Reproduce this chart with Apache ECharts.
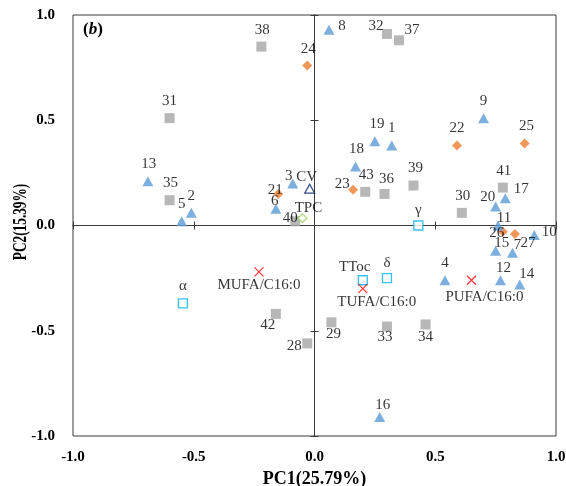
<!DOCTYPE html>
<html>
<head>
<meta charset="utf-8">
<script src="https://cdn.jsdelivr.net/npm/echarts@6/dist/echarts.min.js"></script>
<style>
  html, body { margin: 0; padding: 0; background: #fff; }
  #chart { width: 566px; height: 486px; }
</style>
</head>
<body>
<div id="chart"></div>
<script>
// PCA biplot: sample scores and variable loadings on PC1 / PC2

// Samples 1–20 (blue triangles)
const triNames = ['1','2','3','4','5','6','7','8','9','10','11','12','13','14','15','16','17','18','19','20'];
const triPC1 = [0.32, -0.51, -0.09, 0.54, -0.55, -0.16, 0.82, 0.06, 0.70, 0.91, 0.76, 0.77, -0.69, 0.85, 0.75, 0.27, 0.79, 0.17, 0.25, 0.75];
const triPC2 = [0.38, 0.06, 0.20, -0.26, 0.02, 0.08, -0.13, 0.93, 0.51, -0.045, 0.00, -0.26, 0.21, -0.28, -0.12, -0.91, 0.13, 0.28, 0.40, 0.09];

// Samples 21–27 (orange diamonds)
const diaNames = ['21','22','23','24','25','26','27'];
const diaPC1 = [-0.15, 0.59, 0.16, -0.03, 0.87, 0.78, 0.83];
const diaPC2 = [0.15, 0.38, 0.17, 0.76, 0.39, -0.03, -0.04];

// Samples 28–43 (grey squares)
const sqNames = ['28','29','30','31','32','33','34','35','36','37','38','39','40','41','42','43'];
const sqPC1 = [-0.03, 0.07, 0.61, -0.60, 0.30, 0.30, 0.46, -0.60, 0.29, 0.35, -0.22, 0.41, -0.08, 0.78, -0.16, 0.21];
const sqPC2 = [-0.56, -0.46, 0.06, 0.51, 0.91, -0.48, -0.47, 0.12, 0.15, 0.88, 0.85, 0.19, 0.02, 0.18, -0.42, 0.16];

// Tocopherol loadings (open squares)
const tocNames = ['α', 'γ', 'δ', 'TToc'];
const tocPC1 = [-0.545, 0.43, 0.30, 0.20];
const tocPC2 = [-0.37, 0.00, -0.25, -0.26];

// Fatty-acid ratio loadings (crosses)
const faNames = ['MUFA/C16:0', 'TUFA/C16:0', 'PUFA/C16:0'];
const faPC1 = [-0.23, 0.20, 0.65];
const faPC2 = [-0.22, -0.30, -0.26];

// CV (open triangle) and TPC (open diamond)
const cvNames = ['CV'];
const cvPC1 = [-0.02];
const cvPC2 = [0.175];
const tpcNames = ['TPC'];
const tpcPC1 = [-0.05];
const tpcPC2 = [0.035];

// Axis ticks
const axisTicks = [-1.0, -0.5, 0.0, 0.5, 1.0];

// Where each point's label sits relative to its marker (px)
const labelOffset = {
  '1': [0, -17], '2': [0, -17], '3': [-4, -7], '4': [0, -17], '5': [0, -17],
  '6': [-1, -8], '7': [5, -8], '8': [13, -4], '9': [0, -17], '10': [15, -3],
  '11': [6, -7], '12': [3, -12], '13': [1, -17], '14': [7, -10], '15': [6, -8],
  '16': [3, -12], '17': [16, -9], '18': [1, -17], '19': [2, -17], '20': [-8, -9],
  '21': [-3, -4], '22': [0, -17], '23': [-11, -6], '24': [1, -16], '25': [2, -17],
  '26': [-6, 1], '27': [13, 9],
  '28': [-13, 3], '29': [2, 12], '30': [1, -17], '31': [0, -17], '32': [-11, -8],
  '33': [-2, 11], '34': [0, 13], '35': [1, -17], '36': [2, -15], '37': [13, -10],
  '38': [1, -17], '39': [2, -17], '40': [-5, -3], '41': [1, -17], '42': [-8, 11], '43': [1, -17],
  'α': [0, -17], 'γ': [0, -15], 'δ': [0, -15], 'TToc': [-8, -13],
  'MUFA/C16:0': [0, 13], 'TUFA/C16:0': [14, 13], 'PUFA/C16:0': [13, 17],
  'CV': [-3, -12], 'TPC': [6, -10]
};

const SERIF = '"Liberation Serif", "Times New Roman", serif';
const AXIS_COLOR = '#3a3a3a';

function points(names, xs, ys) {
  return names.map((n, i) => ({
    name: n,
    value: [xs[i], ys[i]],
    label: { offset: labelOffset[n] || [0, -15] }
  }));
}

function scatter(name, data, symbol, size, itemStyle) {
  return {
    name: name,
    type: 'scatter',
    data: data,
    symbol: symbol,
    symbolSize: size,
    itemStyle: itemStyle,
    label: {
      show: true,
      position: 'inside',
      formatter: '{b}',
      fontFamily: SERIF,
      fontSize: 15,
      color: '#000'
    },
    emphasis: { disabled: true }
  };
}

const tickFmt = v => v.toFixed(1);

function labelAxis(pos, name) {
  return {
    type: 'value', min: axisTicks[0], max: axisTicks[axisTicks.length - 1], interval: 0.5,
    position: pos,
    axisLine: { show: false, onZero: false },
    axisTick: { show: false },
    splitLine: { show: false },
    axisLabel: {
      formatter: tickFmt, fontFamily: SERIF, fontWeight: 'bold', fontSize: 15, color: '#000',
      margin: pos === 'bottom' ? 14 : 18
    },
    name: name,
    nameLocation: 'middle',
    nameGap: 33,
    nameTextStyle: { fontFamily: SERIF, fontWeight: 'bold', fontSize: 18, color: '#000' }
  };
}

function zeroAxis(pos, inside) {
  return {
    type: 'value', min: axisTicks[0], max: axisTicks[axisTicks.length - 1], interval: 0.5,
    position: pos,
    axisLine: { show: true, onZero: true, onZeroAxisIndex: 0, lineStyle: { color: AXIS_COLOR, width: 1 } },
    axisTick: { show: true, inside: inside, length: 4, lineStyle: { color: AXIS_COLOR, width: 1 } },
    axisLabel: { show: false },
    splitLine: { show: false }
  };
}

const chart = echarts.init(document.getElementById('chart'), null, { renderer: 'canvas' });

chart.setOption({
  animation: false,
  backgroundColor: '#fff',
  grid: {
    left: 73, right: 10, top: 15, bottom: 50,
    outerBoundsMode: 'none',
    containLabel: false,
    show: true, borderColor: AXIS_COLOR, borderWidth: 1, backgroundColor: 'transparent'
  },
  xAxis: [labelAxis('bottom', 'PC1(25.79%)'), zeroAxis('bottom', true), zeroAxis('bottom', false)],
  yAxis: [labelAxis('left', ''), zeroAxis('left', true), zeroAxis('left', false)],
  graphic: [
    {
      type: 'text', left: 83, top: 21,
      style: {
        text: '{p|(}{b|b}{p|)}',
        rich: {
          p: { fontFamily: SERIF, fontWeight: 'bold', fontSize: 17, fill: '#000' },
          b: { fontFamily: SERIF, fontWeight: 'bold', fontStyle: 'italic', fontSize: 17, fill: '#000' }
        }
      }
    },
    {
      type: 'text', x: 21, y: 222, rotation: Math.PI / 2, scaleX: 0.7, scaleY: 1,
      style: {
        text: 'PC2(15.39%)', fontFamily: SERIF, fontWeight: 'bold', fontSize: 19, fill: '#000',
        align: 'center', verticalAlign: 'middle'
      }
    }
  ],
  series: [
    scatter('Samples 28–43', points(sqNames, sqPC1, sqPC2), 'rect', 10, { color: '#A5A5A5' }),
    scatter('Samples 21–27', points(diaNames, diaPC1, diaPC2), 'diamond', [10, 10], { color: '#ED7D31' }),
    scatter('Samples 1–20', points(triNames, triPC1, triPC2), 'triangle', [11, 10], { color: '#5B9BD5' }),
    scatter('Tocopherols', points(tocNames, tocPC1, tocPC2), 'rect', 9,
      { color: '#fff', borderColor: '#00B0F0', borderWidth: 1.3 }),
    scatter('Fatty-acid ratios', points(faNames, faPC1, faPC2), 'path://M0,0L10,10M10,0L0,10', 9,
      { color: 'transparent', borderColor: '#FF0000', borderWidth: 1.2 }),
    scatter('CV', points(cvNames, cvPC1, cvPC2), 'triangle', [10, 9],
      { color: '#fff', borderColor: '#002060', borderWidth: 1.2 }),
    scatter('TPC', points(tpcNames, tpcPC1, tpcPC2), 'diamond', [9, 9],
      { color: '#fff', borderColor: '#92D050', borderWidth: 1.2 })
  ]
});
</script>
</body>
</html>
